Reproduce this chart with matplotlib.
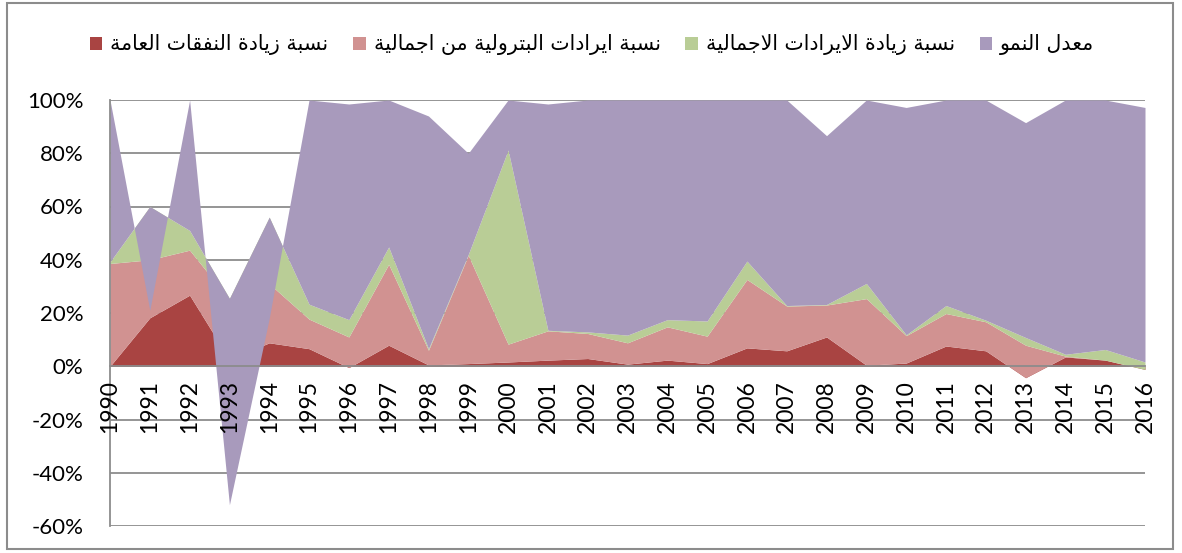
import numpy as np
import matplotlib
matplotlib.use("Agg")
import matplotlib.pyplot as plt
from matplotlib.patches import Patch, Rectangle

# data (percent)
years = list(range(1990, 2017))
spending = [0, 18.2, 26.7, 2.5, 8.8, 6.6, -0.5, 7.9, 0.5, 1.0, 1.6, 2.3, 2.9, 0.8,
            2.3, 1.0, 6.9, 5.8, 11.0, 0.4, 1.2, 7.6, 5.8, -4.3, 3.5, 2.3, -1.2]
oil_share = [38.6, 21.8, 16.9, 22.5, 22.2, 11.1, 11.5, 30.4, 5.5, 40.7, 6.7, 11.0, 9.4, 8.0,
             12.5, 10.3, 25.7, 16.8, 12.0, 25.0, 10.3, 12.2, 10.9, 12.2, 0.3, 0.0, 0.0]
revenue = [0.6, 20.0, 7.4, 0.5, 25.0, 5.6, 6.5, 6.5, 0.6, 0.3, 72.9, 0.2, 0.6, 2.9,
           2.7, 5.7, 6.9, 0.2, 0.2, 5.7, 0.3, 3.0, 0.6, 2.9, 0.7, 4.0, 2.8]
growth = [60.8, -39.0, 49.0, -77.5, -38.0, 76.7, 81.0, 55.2, 87.4, 38.0, 18.8, 85.0, 87.1, 88.3,
          82.5, 83.0, 60.5, 77.2, 63.4, 68.9, 85.4, 77.2, 82.7, 80.7, 95.5, 93.7, 95.6]

names = ["نسبة زيادة النفقات العامة",
         "نسبة ايرادات البترولية من اجمالية",
         "نسبة زيادة الايرادات الاجمالية",
         "معدل النمو"]
colors = ["#A94442", "#D19291", "#B9CD96", "#A89ABC"]

# minimal arabic shaping (presentation forms) since matplotlib does not shape
FORMS = {
    'ا': (0xFE8D, 2), 'ب': (0xFE8F, 4), 'ة': (0xFE93, 2), 'ت': (0xFE95, 4),
    'ج': (0xFE9D, 4), 'د': (0xFEA9, 2), 'ر': (0xFEAD, 2), 'ز': (0xFEAF, 2),
    'س': (0xFEB1, 4), 'ع': (0xFEC9, 4), 'ف': (0xFED1, 4), 'ق': (0xFED5, 4),
    'ل': (0xFEDD, 4), 'م': (0xFEE1, 4), 'ن': (0xFEE5, 4), 'و': (0xFEED, 2),
    'ي': (0xFEF1, 4),
}


def shape(text):
    res = []
    i = 0
    n = len(text)
    while i < n:
        c = text[i]
        if c not in FORMS:
            res.append(c)
            i += 1
            continue
        prev = text[i - 1] if i > 0 else ' '
        linked_prev = prev in FORMS and FORMS[prev][1] == 4
        if c == 'ل' and i + 1 < n and text[i + 1] == 'ا':
            res.append(chr(0xFEFC if linked_prev else 0xFEFB))
            i += 2
            continue
        nxt = text[i + 1] if i + 1 < n else ' '
        linked_next = FORMS[c][1] == 4 and nxt in FORMS
        base = FORMS[c][0]
        if linked_prev and linked_next:
            code = base + 3
        elif linked_prev:
            code = base + 1
        elif linked_next:
            code = base + 2
        else:
            code = base
        res.append(chr(code))
        i += 1
    return ''.join(reversed(res))


fig = plt.figure(figsize=(11.82, 5.53), dpi=100)
ax = fig.add_axes([110 / 1182, (553 - 526) / 553, (1145 - 110) / 1182, (526 - 100) / 553])

# stacked areas, excel style: each layer filled between previous and own cumulative line
series = np.array([spending, oil_share, revenue, growth])
cum = np.cumsum(series, axis=0)
lower = np.zeros(len(years))
for k in range(4):
    ax.fill_between(years, lower, cum[k], color=colors[k], lw=0, zorder=1 + k * 0.01)
    lower = cum[k]

gray = "#8C8C8C"
# spine position first, it resets tick settings
for s in ["top", "right"]:
    ax.spines[s].set_visible(False)
ax.spines["bottom"].set_position(("data", 0))
ax.spines["left"].set_color(gray)
ax.spines["left"].set_linewidth(1.3)
ax.spines["bottom"].set_color(gray)
ax.spines["bottom"].set_linewidth(1.3)

ax.set_xlim(1990, 2016)
ax.set_ylim(-60, 100)
ax.set_yticks(range(-60, 101, 20))
ax.set_yticklabels([f"{v}%" for v in range(-60, 101, 20)], fontsize=16, family="Lato")
ax.set_xticks(years)
ax.set_xticklabels([str(y) for y in years], rotation=90, fontsize=16.5, family="Lato")
ax.tick_params(axis="y", length=0, pad=19)
ax.tick_params(axis="x", length=0, pad=10)
ax.yaxis.grid(True, color=gray, lw=1.3)
ax.set_axisbelow(True)
ax.xaxis.set_zorder(3)
ax.set_facecolor("none")

handles = [Patch(facecolor=c, edgecolor="none") for c in colors]
fig.legend(handles, [shape(t) for t in names], loc="center",
           bbox_to_anchor=(0.501, 1 - 45 / 553), ncol=4, frameon=False,
           prop={"family": "DejaVu Sans", "size": 14.8},
           handlelength=0.6, handleheight=0.6, handletextpad=0.4, columnspacing=1.2)

# outer chart border
fig.patches.append(Rectangle((7 / 1182, 4 / 553), (1173 - 7) / 1182, (550 - 4) / 553,
                             transform=fig.transFigure, fill=False, edgecolor=gray, lw=1.5))

fig.savefig("out.png", dpi=100)
